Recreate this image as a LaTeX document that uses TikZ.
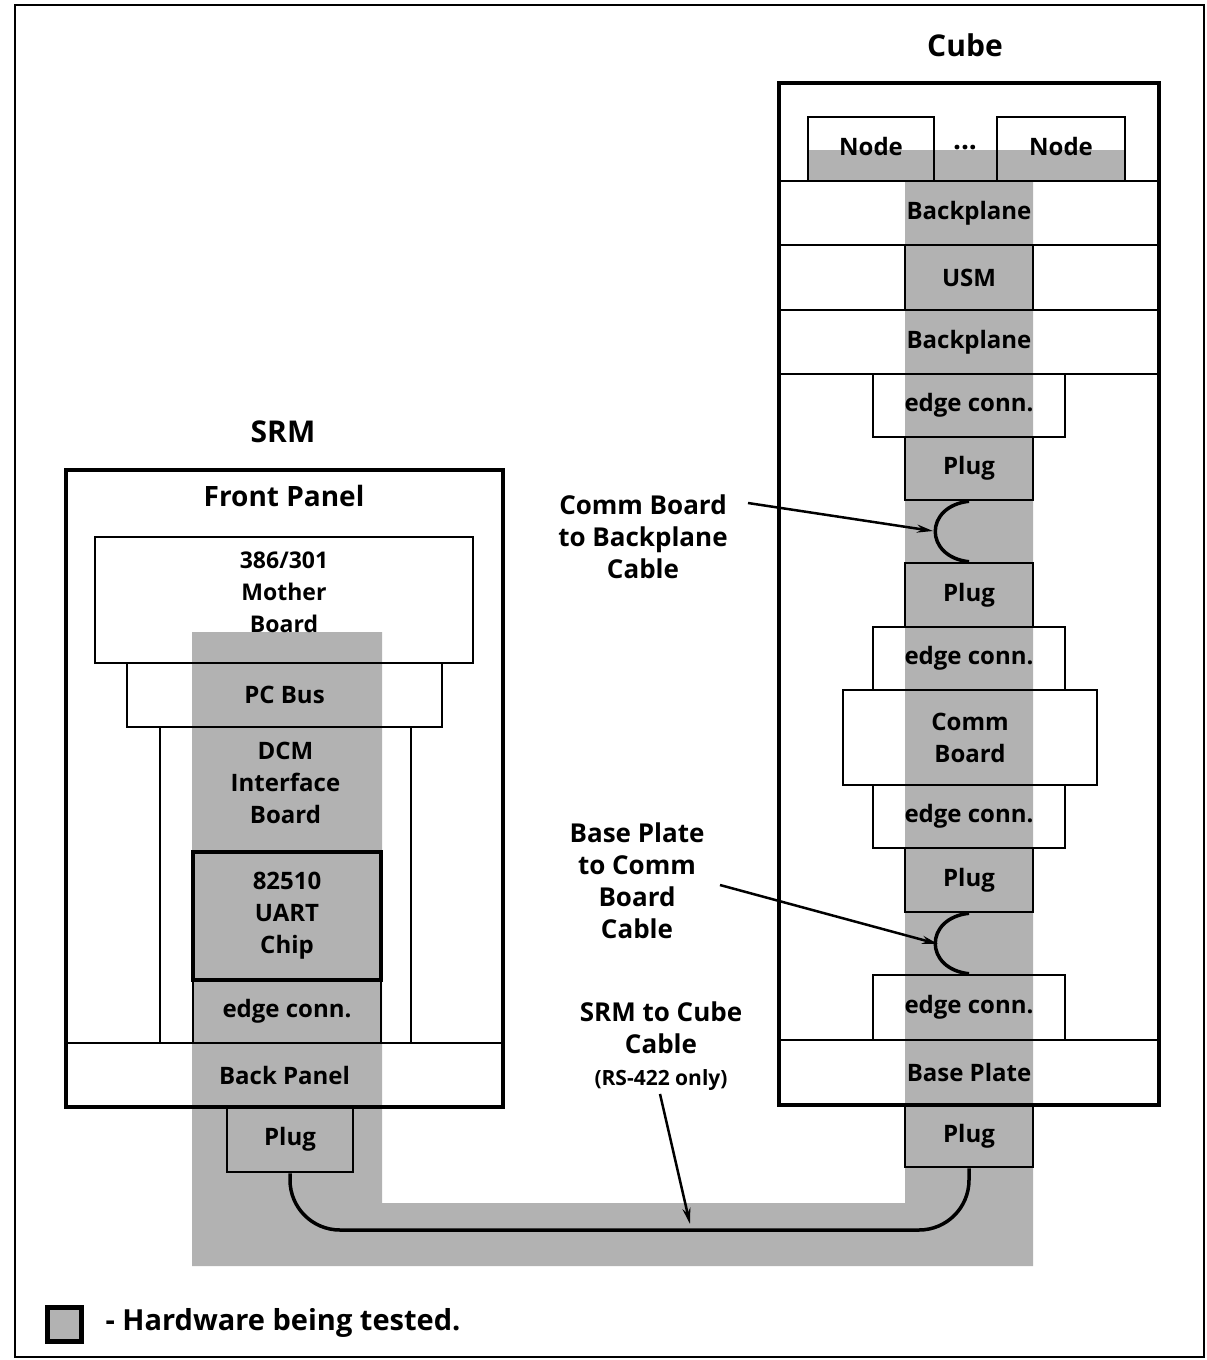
\documentclass[tikz,border=0pt]{standalone}
\usepackage{fontspec}
\setmainfont{Open Sans}
\usetikzlibrary{arrows.meta}

\definecolor{testgray}{RGB}{178,178,178}
\newcommand\lbl{\fontsize{24}{32}\selectfont\bfseries}
\newcommand\ttl{\fontsize{30}{36}\selectfont\bfseries}
\newcommand\hdr{\fontsize{28}{32}\selectfont\bfseries}
\newcommand\cpt{\fontsize{26}{32}\selectfont\bfseries}

\tikzset{
  blk/.style 2 args={draw, line width=2.5pt, minimum width=#1, minimum height=#2,
    inner sep=0pt, align=center, font=\lbl},
  cable/.style={line width=3.5pt},
  ptr/.style={line width=2.5pt, -{Stealth[length=16pt,width=8pt]}}
}

\begin{document}
\begin{tikzpicture}[x=1pt,y=-1pt]
\useasboundingbox (0,0) rectangle (1207,1360);
\draw[line width=2pt] (15,5) rectangle (1204,1357);

% hardware under test
\fill[testgray] (192,632) -- (382,632) -- (382,1203) -- (905,1203) -- (905,181)
  -- (808,181) -- (808,150) -- (1125,150) -- (1125,181) -- (1033,181)
  -- (1033,1266) -- (192,1266) -- cycle;

% SRM
\node[font=\ttl] (srmt) at (283,432) {SRM};
\node[draw, line width=4pt, minimum width=437, minimum height=637, inner sep=0] (srm) at (284.5,788.5) {};
\node[font=\hdr] (front) at (284,496) {Front Panel};
\node[blk={378}{126}] (mb) at (284,600) {};
\node[font=\fontsize{23}{32}\selectfont\bfseries, align=center] (mbt) at (284,592) {386/301\\Mother\\Board};
\node[blk={315}{64}] (pcbus) at (284.5,695) {PC Bus};
\node[blk={251}{316}] (dcm) at (285.5,885) {};
\node[font=\lbl, align=center] (dcmt) at (285.5,783) {DCM\\Interface\\Board};
\node[blk={188}{128}, line width=3.5pt] (uart) at (287,916) {82510\\UART\\Chip};
\node[blk={188}{63}] (sec) at (287,1011.5) {edge conn.};
\node[blk={437}{64}] (back) at (284.5,1075) {Back Panel};
\node[blk={126}{65}] (splug) at (290,1139.5) {Plug};

% Cube
\node[font=\ttl] (cubet) at (965,45) {Cube};
\node[draw, line width=4pt, minimum width=380, minimum height=1022, inner sep=0] (cube) at (969,594) {};
\node[blk={126}{64}] (node1) at (871,149) {\raisebox{6pt}{Node}};
\node[blk={128}{64}] (node2) at (1061,149) {\raisebox{6pt}{Node}};
\node[font=\fontsize{28}{32}\selectfont\bfseries] (dots) at (965,148) {...};
\node[blk={380}{64}] (bp1) at (969,213) {Backplane};
\node[blk={128}{65}] (usm) at (969,277.5) {USM};
\node[blk={380}{64}] (bp2) at (969,342) {Backplane};
\node[blk={192}{63}] (ec1) at (969,405.5) {edge conn.};
\node[blk={128}{63}] (cp1) at (969,468.5) {Plug};
\node[blk={128}{64}] (cp2) at (969,595) {Plug};
\node[blk={192}{63}] (ec2) at (969,658.5) {edge conn.};
\node[blk={254}{95}] (comm) at (970,737.5) {Comm\\Board};
\node[blk={192}{63}] (ec3) at (969,816.5) {edge conn.};
\node[blk={128}{64}] (cp3) at (969,880) {Plug};
\node[blk={192}{65}] (ec4) at (969,1007.5) {edge conn.};
\node[blk={380}{65}] (base) at (969,1072.5) {Base Plate};
\node[blk={128}{62}] (cp4) at (969,1136) {Plug};

% cables
\coordinate (cbot) at (640,1230);
\draw[cable, rounded corners=50] (splug.south) |- (cbot) -| (cp4.south);
\draw[cable] (cp1.south) .. controls +(-45,5) and +(-45,-5) .. (cp2.north);
\draw[cable] (cp3.south) .. controls +(-45,5) and +(-45,-5) .. (ec4.north);

% callouts
\node[font=\cpt, align=center] (cbl1) at (643,537) {Comm Board\\to Backplane\\Cable};
\node[font=\cpt, align=center] (cbl2) at (637,881) {Base Plate\\to Comm\\Board\\Cable};
\node[font=\cpt, align=center] (cbl3) at (661,1046) {SRM to Cube\\Cable\\{\fontsize{21}{24}\selectfont (RS-422 only)}};
\coordinate (a1s) at (748,503);
\coordinate (a1e) at (933,531);
\coordinate (a2s) at (720,885);
\coordinate (a2e) at (938,944);
\coordinate (a3e) at (690,1224);
\draw[ptr] (a1s) -- (a1e);
\draw[ptr] (a2s) -- (a2e);
\draw[ptr] ([xshift=-1pt]cbl3.south) -- (a3e);

% key
\node[draw, line width=5pt, fill=testgray, minimum size=34, inner sep=0] (key) at (64,1324) {};
\node[font=\fontsize{29}{32}\selectfont\bfseries, anchor=west] (keyt) at (102,1323) {- Hardware being tested.};
\end{tikzpicture}
\end{document}
